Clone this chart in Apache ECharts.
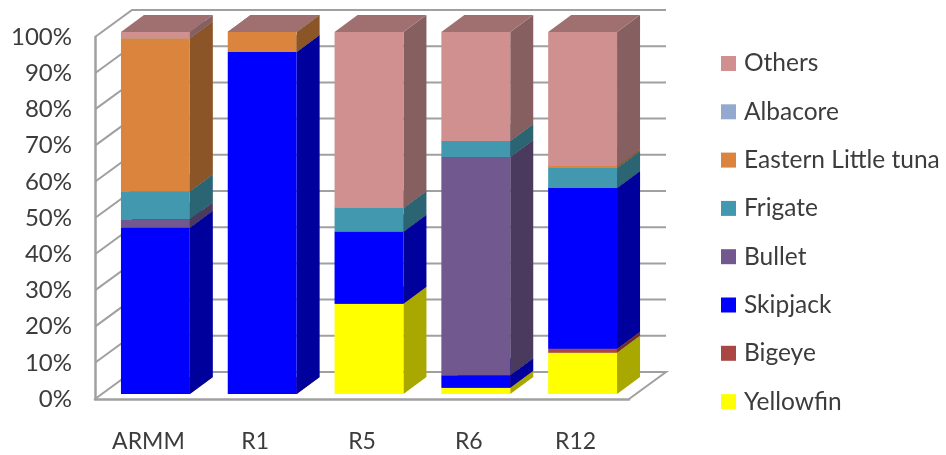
<!DOCTYPE html>
<html>
<head>
<meta charset="utf-8">
<style>html,body{margin:0;padding:0;background:#fff}#chart{width:946px;height:455px}</style>
<script src="https://cdn.jsdelivr.net/npm/echarts@6/dist/echarts.min.js"></script>
</head>
<body>
<div id="chart"></div>
<script>
// Species composition by region, in percent, stacked from the floor upward.
const regions = ['ARMM', 'R1', 'R5', 'R6', 'R12'];
const percentTicks = [0, 10, 20, 30, 40, 50, 60, 70, 80, 90, 100];

const yellowfin = [0, 0, 24.9, 1.7, 11.4];
const bigeye = [0, 0, 0, 0, 1.1];
const skipjack = [45.9, 94.5, 19.9, 3.5, 44.4];
const bullet = [2.4, 0, 0, 60.3, 0];
const frigate = [7.7, 0, 6.6, 4.4, 5.5];
const easternLittleTuna = [42.3, 5.5, 0, 0, 0.6];
const albacore = [0, 0, 0, 0, 0];
const others = [1.7, 0, 48.6, 30.1, 37];

const species = [
  { name: 'Yellowfin', values: yellowfin, face: '#ffff00', side: '#a8a800', top: '#c4c400' },
  { name: 'Bigeye', values: bigeye, face: '#aa4643', side: '#702e2c', top: '#843634' },
  { name: 'Skipjack', values: skipjack, face: '#0000ff', side: '#00009c', top: '#0000c4' },
  { name: 'Bullet', values: bullet, face: '#71588f', side: '#4a3a5e', top: '#58446f' },
  { name: 'Frigate', values: frigate, face: '#4198af', side: '#2b6473', top: '#327688' },
  { name: 'Eastern Little tuna', values: easternLittleTuna, face: '#db843d', side: '#8b5528', top: '#aa6730' },
  { name: 'Albacore', values: albacore, face: '#93a9cf', side: '#606f88', top: '#7283a0' },
  { name: 'Others', values: others, face: '#d09090', side: '#866060', top: '#a07070' }
];

// Oblique projection used for the fake 3D look, in pixels.
const WALL_DX = 37, WALL_DY = -27;      // front plane to back wall
const BAR_DX = 7, BAR_DY = -5;          // front plane to bar front face
const DEPTH_DX = 23, DEPTH_DY = -17;    // bar front face to bar back face
const BAR_RATIO = 0.645;                // bar width over category band
const WALL_COLOR = '#a0a0a0';
const TEXT_COLOR = '#3c3c3c';
const FONT = 'Lato';

function poly(points, fill) {
  return { type: 'polygon', shape: { points }, style: { fill }, silent: true };
}

// Walls and floor: each tick runs along the left wall, then across the back wall.
function renderWall(params, api) {
  const band = api.size([1, 0])[0];
  const p = api.coord([0, api.value(1)]);
  const xL = p[0] - band / 2;
  const xR = xL + band * regions.length;
  const line = { stroke: WALL_COLOR, lineWidth: 2, fill: null };
  const pts = [[xL, p[1]], [xL + WALL_DX, p[1] + WALL_DY], [xR + WALL_DX, p[1] + WALL_DY]];
  if (api.value(1) === 0) pts.push([xR, p[1]]);
  return { type: 'polyline', shape: { points: pts }, style: line, silent: true };
}

// One stacked segment: front face, right side and top.
function renderSegment(style) {
  return function (params, api) {
    const cat = api.value(0);
    const band = api.size([1, 0])[0];
    const w = band * BAR_RATIO;
    const lo = api.coord([cat, api.value(1)]);
    const hi = api.coord([cat, api.value(2)]);
    const x0 = lo[0] - w / 2 + BAR_DX;
    const x1 = x0 + w;
    const yb = lo[1] + BAR_DY;
    const yt = hi[1] + BAR_DY;
    const children = [
      poly([[x1, yb], [x1 + DEPTH_DX, yb + DEPTH_DY], [x1 + DEPTH_DX, yt + DEPTH_DY], [x1, yt]], style.side),
      poly([[x0, yt], [x1, yt], [x1 + DEPTH_DX, yt + DEPTH_DY], [x0 + DEPTH_DX, yt + DEPTH_DY]], style.top),
      poly([[x0, yb], [x1, yb], [x1, yt], [x0, yt]], style.face)
    ];
    return { type: 'group', children };
  };
}

const running = regions.map(() => 0);
const segmentSeries = species.map(s => {
  const data = s.values.map((v, i) => {
    const start = running[i];
    running[i] = start + v;
    return [i, start, running[i]];
  });
  return {
    type: 'custom',
    name: s.name,
    renderItem: renderSegment(s),
    itemStyle: { color: s.face },
    encode: { x: 0, y: [1, 2] },
    data,
    z: 3
  };
});

const chart = echarts.init(document.getElementById('chart'), null, { renderer: 'canvas' });
chart.setOption({
  animation: false,
  backgroundColor: '#ffffff',
  grid: { left: 95, right: 317, top: 37, bottom: 56, containLabel: false },
  legend: {
    orient: 'vertical',
    left: 721,
    top: 51,
    padding: 0,
    itemWidth: 15,
    itemHeight: 15,
    itemGap: 23.3,
    icon: 'rect',
    selectedMode: false,
    textStyle: { fontFamily: FONT, fontSize: 24.5, color: TEXT_COLOR, lineHeight: 24, padding: [0, 0, 0, 3] },
    data: species.map(s => s.name).reverse()
  },
  xAxis: {
    type: 'category',
    data: regions,
    axisLine: { show: true, lineStyle: { color: WALL_COLOR, width: 2.5 } },
    axisTick: { show: false },
    axisLabel: { fontFamily: FONT, fontSize: 23, color: TEXT_COLOR, margin: 31 }
  },
  yAxis: {
    type: 'value',
    min: 0,
    max: 100,
    interval: 10,
    axisLine: { show: true, lineStyle: { color: WALL_COLOR, width: 2.5 } },
    axisTick: { show: false },
    splitLine: { show: false },
    axisLabel: { fontFamily: FONT, fontSize: 24, color: TEXT_COLOR, margin: 23, formatter: '{value}%' }
  },
  series: [
    {
      type: 'custom',
      name: 'walls',
      renderItem: renderWall,
      encode: { x: 0, y: 1 },
      data: percentTicks.map(t => [0, t]),
      z: 1,
      silent: true
    }
  ].concat(segmentSeries)
});
</script>
</body>
</html>
